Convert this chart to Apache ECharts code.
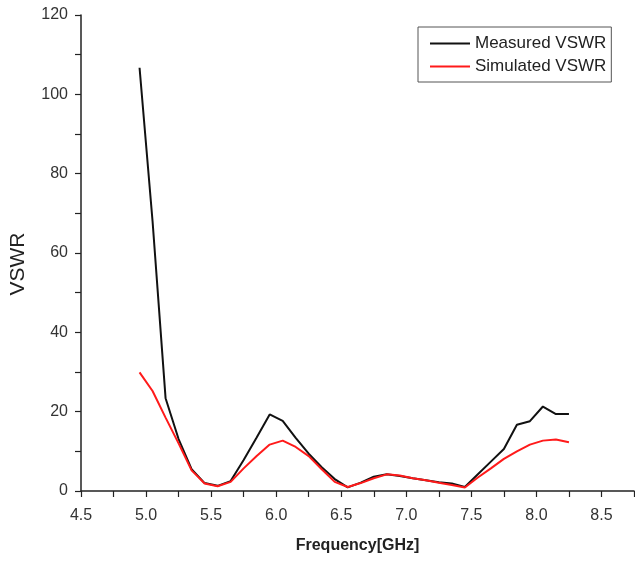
<!DOCTYPE html>
<html><head><meta charset="utf-8">
<script src="https://cdn.jsdelivr.net/npm/echarts@6/dist/echarts.min.js"></script>
<style>html,body{margin:0;padding:0;background:#fff}#c{width:635px;height:565px}</style>
</head><body><div id="c"></div>
<script>
const frequency = [4.95,5.05,5.15,5.25,5.35,5.45,5.55,5.65,5.75,5.85,5.95,6.05,6.15,6.25,6.35,6.45,6.55,6.65,6.75,6.85,6.95,7.05,7.15,7.25,7.35,7.45,7.55,7.65,7.75,7.85,7.95,8.05,8.15,8.25];
const measuredVSWR = [106.7,68,23.4,13.1,5.5,2.0,1.3,2.5,7.8,13.5,19.3,17.7,13.4,9.4,6.0,3.0,0.9,2.1,3.6,4.2,3.8,3.2,2.7,2.2,1.9,1.0,4.2,7.4,10.6,16.7,17.6,21.3,19.4,19.4];
const simulatedVSWR = [29.9,25.2,18.5,12.0,5.2,1.9,1.2,2.3,5.7,8.8,11.7,12.7,11.1,8.8,5.5,2.3,1.0,2.0,3.2,4.2,3.9,3.2,2.7,2.1,1.5,0.9,3.4,5.7,8.1,10.0,11.7,12.7,13.0,12.3];
const seriesNames = ['Measured VSWR','Simulated VSWR'];

const chart = echarts.init(document.getElementById('c'));
const font = 'Liberation Sans, Arial, sans-serif';
const axisCommon = {
  axisLine:{show:true,lineStyle:{color:'#222',width:1.5}},
  axisTick:{show:true,inside:false,length:6,lineStyle:{color:'#222',width:1.2}},
  minorTick:{show:true,splitNumber:2,length:6,lineStyle:{color:'#222',width:1.2}},
  splitLine:{show:false},
  axisLabel:{color:'#333',fontSize:16,fontFamily:font}
};
chart.setOption({
  animation:false,
  grid:{left:80,right:1,top:15,bottom:74},
  legend:{
    orient:'vertical',left:418,top:27,
    padding:[8,5,7,12],itemGap:6,
    borderColor:'#555',borderWidth:1,
    icon:'rect',itemWidth:40,itemHeight:2,
    textStyle:{fontSize:17,color:'#222',fontFamily:font},
    data:seriesNames
  },
  xAxis:Object.assign({},axisCommon,{
    type:'value',min:4.5,max:8.75,interval:0.5,
    name:'Frequency[GHz]',nameLocation:'middle',nameGap:47,
    nameTextStyle:{fontSize:16,fontWeight:'bold',color:'#222',fontFamily:font},
    axisLabel:Object.assign({},axisCommon.axisLabel,{margin:17,showMaxLabel:false,
      formatter:v=>v.toFixed(1)})
  }),
  yAxis:Object.assign({},axisCommon,{
    type:'value',min:0,max:120,interval:20,
    name:'VSWR',nameLocation:'middle',nameGap:52,
    nameTextStyle:{fontSize:21,color:'#222',fontFamily:font,padding:[0,22,0,0]},
    axisLabel:Object.assign({},axisCommon.axisLabel,{margin:13})
  }),
  series:[
    {name:seriesNames[0],type:'line',symbol:'none',
     data:frequency.map((f,i)=>[f,measuredVSWR[i]]),
     lineStyle:{color:'#111',width:2},itemStyle:{color:'#111'}},
    {name:seriesNames[1],type:'line',symbol:'none',
     data:frequency.map((f,i)=>[f,simulatedVSWR[i]]),
     lineStyle:{color:'#ff1a1a',width:2},itemStyle:{color:'#ff1a1a'}}
  ]
});
</script></body></html>
